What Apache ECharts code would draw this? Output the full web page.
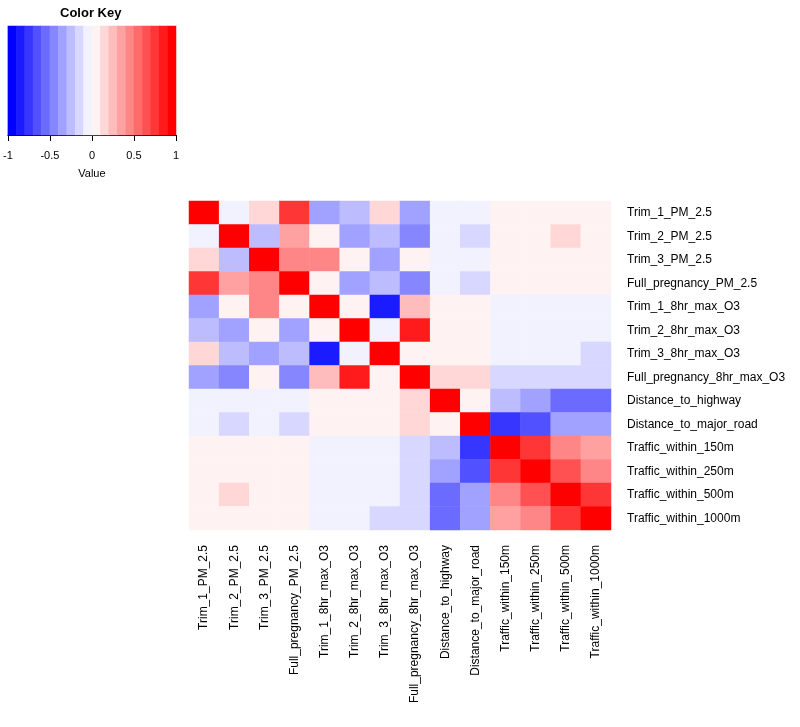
<!DOCTYPE html>
<html>
<head>
<meta charset="utf-8">
<script src="https://cdn.jsdelivr.net/npm/echarts@6/dist/echarts.min.js"></script>
<style>html,body{margin:0;padding:0;background:#fff;}#c{width:800px;height:727px;}</style>
</head>
<body>
<div id="c"></div>
<script>
var variables = ['Trim_1_PM_2.5','Trim_2_PM_2.5','Trim_3_PM_2.5','Full_pregnancy_PM_2.5',
  'Trim_1_8hr_max_O3','Trim_2_8hr_max_O3','Trim_3_8hr_max_O3','Full_pregnancy_8hr_max_O3',
  'Distance_to_highway','Distance_to_major_road','Traffic_within_150m','Traffic_within_250m',
  'Traffic_within_500m','Traffic_within_1000m'];

var corr = [
  [1, -0.05, 0.15, 0.75, -0.35, -0.25, 0.15, -0.35, -0.05, -0.05, 0.05, 0.05, 0.05, 0.05],
  [-0.05, 1, -0.25, 0.35, 0.05, -0.35, -0.25, -0.45, -0.05, -0.15, 0.05, 0.05, 0.15, 0.05],
  [0.15, -0.25, 1, 0.45, 0.45, 0.05, -0.35, 0.05, -0.05, -0.05, 0.05, 0.05, 0.05, 0.05],
  [0.75, 0.35, 0.45, 1, 0.05, -0.35, -0.25, -0.45, -0.05, -0.15, 0.05, 0.05, 0.05, 0.05],
  [-0.35, 0.05, 0.45, 0.05, 1, 0.05, -0.85, 0.25, 0.05, 0.05, -0.05, -0.05, -0.05, -0.05],
  [-0.25, -0.35, 0.05, -0.35, 0.05, 1, -0.05, 0.85, 0.05, 0.05, -0.05, -0.05, -0.05, -0.05],
  [0.15, -0.25, -0.35, -0.25, -0.85, -0.05, 1, 0.05, 0.05, 0.05, -0.05, -0.05, -0.05, -0.15],
  [-0.35, -0.45, 0.05, -0.45, 0.25, 0.85, 0.05, 1, 0.15, 0.15, -0.15, -0.15, -0.15, -0.15],
  [-0.05, -0.05, -0.05, -0.05, 0.05, 0.05, 0.05, 0.15, 1, 0.05, -0.25, -0.35, -0.55, -0.55],
  [-0.05, -0.15, -0.05, -0.15, 0.05, 0.05, 0.05, 0.15, 0.05, 1, -0.75, -0.65, -0.35, -0.35],
  [0.05, 0.05, 0.05, 0.05, -0.05, -0.05, -0.05, -0.15, -0.25, -0.75, 1, 0.75, 0.45, 0.35],
  [0.05, 0.05, 0.05, 0.05, -0.05, -0.05, -0.05, -0.15, -0.35, -0.65, 0.75, 1, 0.65, 0.45],
  [0.05, 0.15, 0.05, 0.05, -0.05, -0.05, -0.05, -0.15, -0.55, -0.35, 0.45, 0.65, 1, 0.75],
  [0.05, 0.05, 0.05, 0.05, -0.05, -0.05, -0.15, -0.15, -0.55, -0.35, 0.35, 0.45, 0.75, 1]
];

// colour key bins (bin centres) and tick labels
var keyBins = [-0.95,-0.85,-0.75,-0.65,-0.55,-0.45,-0.35,-0.25,-0.15,-0.05,
               0.05,0.15,0.25,0.35,0.45,0.55,0.65,0.75,0.85,0.95];
var keyTicks = [-1, -0.5, 0, 0.5, 1];

// blue-white-red palette, 20 steps
var palette = [];
for (var i = 0; i < 20; i++) {
  var t = i / 19, r, g, b;
  if (t <= 0.5) { var f = t / 0.5; r = Math.round(255 * f); g = r; b = 255; }
  else { var f2 = (t - 0.5) / 0.5; r = 255; g = Math.round(255 * (1 - f2)); b = g; }
  palette.push('rgb(' + r + ',' + g + ',' + b + ')');
}
var pieces = [];
for (var k = 0; k < 20; k++) {
  var lo = Math.round((-1 + 0.1 * k) * 10) / 10, hi = Math.round((-1 + 0.1 * (k + 1)) * 10) / 10;
  var p = {gte: lo, color: palette[k]};
  if (k === 19) p.lte = hi; else p.lt = hi;
  pieces.push(p);
}

var heatData = [];
for (var r0 = 0; r0 < corr.length; r0++)
  for (var c0 = 0; c0 < corr[r0].length; c0++)
    heatData.push([c0, r0, corr[r0][c0]]);

var keyData = keyBins.map(function (v, i) { return [i, 0, v]; });

var chart = echarts.init(document.getElementById('c'), null, {renderer: 'canvas'});
var FONT = 'Liberation Sans, Arial, sans-serif';
chart.setOption({
  animation: false,
  backgroundColor: '#fff',
  title: {
    text: 'Color Key', left: 60, top: 7, padding: 0,
    textStyle: {fontFamily: FONT, fontSize: 13, fontWeight: 'bold', color: '#000'}
  },
  visualMap: {type: 'piecewise', show: false, pieces: pieces, seriesIndex: [0, 1]},
  grid: [
    {left: 189, top: 201, width: 422, height: 329},
    {left: 7, top: 26, width: 169, height: 109}
  ],
  xAxis: [
    {type: 'category', gridIndex: 0, data: variables, position: 'bottom',
     axisLine: {show: false}, axisTick: {show: false}, splitLine: {show: false},
     axisLabel: {rotate: 90, margin: 15, interval: 0, fontFamily: FONT, fontSize: 12, color: '#000'}},
    {type: 'category', gridIndex: 1, data: keyBins.map(String), show: false},
    {type: 'value', gridIndex: 1, min: -1, max: 1, interval: 0.5, position: 'bottom',
     axisLine: {show: true, onZero: false, lineStyle: {color: '#000', width: 1}},
     axisTick: {show: true, length: 6, lineStyle: {color: '#000'}},
     splitLine: {show: false},
     axisLabel: {margin: 15, fontFamily: FONT, fontSize: 11, color: '#000',
                 formatter: function (v) { return keyTicks.indexOf(v) >= 0 ? String(v) : ''; }},
     name: 'Value', nameLocation: 'middle', nameGap: 33,
     nameTextStyle: {fontFamily: FONT, fontSize: 11, color: '#000'}}
  ],
  yAxis: [
    {type: 'category', gridIndex: 0, data: variables, inverse: true, position: 'right',
     axisLine: {show: false}, axisTick: {show: false}, splitLine: {show: false},
     axisLabel: {margin: 16, interval: 0, fontFamily: FONT, fontSize: 12, color: '#000'}},
    {type: 'category', gridIndex: 1, data: ['key'], show: false}
  ],
  series: [
    {type: 'heatmap', xAxisIndex: 0, yAxisIndex: 0, data: heatData,
     itemStyle: {borderWidth: 0}, emphasis: {disabled: true}},
    {type: 'heatmap', xAxisIndex: 1, yAxisIndex: 1, data: keyData,
     itemStyle: {borderWidth: 0}, emphasis: {disabled: true}}
  ]
});
</script>
</body>
</html>
